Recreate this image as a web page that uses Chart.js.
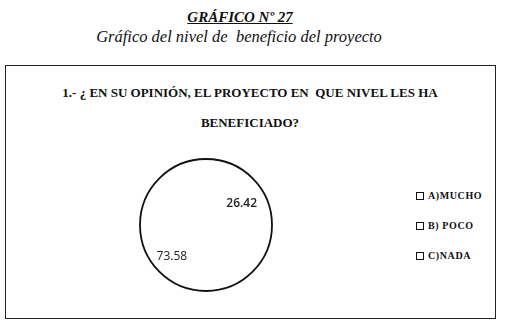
<!DOCTYPE html>
<html>
<head>
<meta charset="utf-8">
<script src="https://cdn.jsdelivr.net/npm/chart.js@4/dist/chart.umd.min.js"></script>
<style>
  html, body { margin: 0; padding: 0; background: #fff; }
  body { width: 507px; height: 326px; position: relative; overflow: hidden; font-family: "Liberation Serif", "Times New Roman", Times, serif; color: #111; }
  .abs { position: absolute; white-space: nowrap; }
  #hdr { left: 0; width: 480px; top: 9px; text-align: center; font-weight: bold; font-style: italic; font-size: 15px; text-decoration: underline; line-height: 16px; }
  #sub { left: 0; width: 478px; top: 28px; text-align: center; font-style: italic; font-size: 16.5px; line-height: 18px; }
  #box { left: 5px; top: 65px; width: 491px; height: 254px; border: 1.5px solid #222; box-sizing: border-box; position: absolute; }
  .q { left: 0; width: 500px; text-align: center; font-weight: bold; font-size: 13px; line-height: 14px; font-family: "Liberation Serif", "Times New Roman", serif; }
  #q1 { top: 86px; }
  #q2 { top: 116px; }
  #cv { position: absolute; left: 131px; top: 150px; width: 150px; height: 150px; }
  #legend { position: absolute; left: 416px; top: 190px; }
  .li { position: absolute; left: 0; height: 12px; font-size: 10px; line-height: 12px; font-weight: bold; letter-spacing: 0.6px; white-space: nowrap; }
  .sw { display: inline-block; width: 6px; height: 6px; border: 1.5px solid #111; vertical-align: -1px; margin-right: 4px; background: #fff; }
</style>
</head>
<body>
<div class="abs" id="hdr">GRÁFICO Nº 27</div>
<div class="abs" id="sub">Gráfico del nivel de&nbsp; beneficio del proyecto</div>
<div id="box"></div>
<div class="abs q" id="q1">1.- ¿ EN SU OPINIÓN, EL PROYECTO EN&nbsp; QUE NIVEL LES HA</div>
<div class="abs q" id="q2">BENEFICIADO?</div>
<canvas id="cv" width="150" height="150"></canvas>
<div id="legend"></div>
<script>
const categories = ["A)MUCHO", "B) POCO", "C)NADA"];
const values = [26.42, 73.58, 0];
const valueLabels = ["26.42", "73.58", ""];

// HTML legend built from the categories
const legend = document.getElementById('legend');
categories.forEach((c, i) => {
  const d = document.createElement('div');
  d.className = 'li';
  d.style.top = (i * 30) + 'px';
  d.innerHTML = '<span class="sw"></span>' + c;
  legend.appendChild(d);
});

const outlinePlugin = {
  id: 'outline',
  afterDatasetsDraw(chart) {
    const meta = chart.getDatasetMeta(0);
    const arc = meta.data[0];
    if (!arc) return;
    const ctx = chart.ctx;
    ctx.save();
    ctx.beginPath();
    ctx.arc(arc.x, arc.y, arc.outerRadius, 0, Math.PI * 2);
    ctx.lineWidth = 1.8;
    ctx.strokeStyle = '#111';
    ctx.stroke();
    // value labels
    meta.data.forEach((a, i) => {
      if (!values[i]) return;
      const mid = (a.startAngle + a.endAngle) / 2 + (i === 0 ? 0.2 : 0);
      const r = a.outerRadius * (i === 0 ? 0.63 : 0.7);
      const x = a.x + Math.cos(mid) * r;
      const y = a.y + Math.sin(mid) * r;
      ctx.font = (i === 0 ? '600 ' : '400 ') + '12px "Open Sans", "DejaVu Sans", sans-serif';
      ctx.fillStyle = '#222';
      ctx.textAlign = 'center';
      ctx.textBaseline = 'middle';
      ctx.fillText(valueLabels[i], x, y);
    });
    ctx.restore();
  }
};

new Chart(document.getElementById('cv'), {
  type: 'pie',
  data: {
    labels: categories,
    datasets: [{
      data: values,
      backgroundColor: '#ffffff',
      borderWidth: 0
    }]
  },
  options: {
    responsive: false,
    animation: false,
    radius: 66,
    layout: { padding: 0 },
    plugins: {
      legend: { display: false },
      tooltip: { enabled: false },
      title: { display: false }
    }
  },
  plugins: [outlinePlugin]
});
</script>
</body>
</html>
